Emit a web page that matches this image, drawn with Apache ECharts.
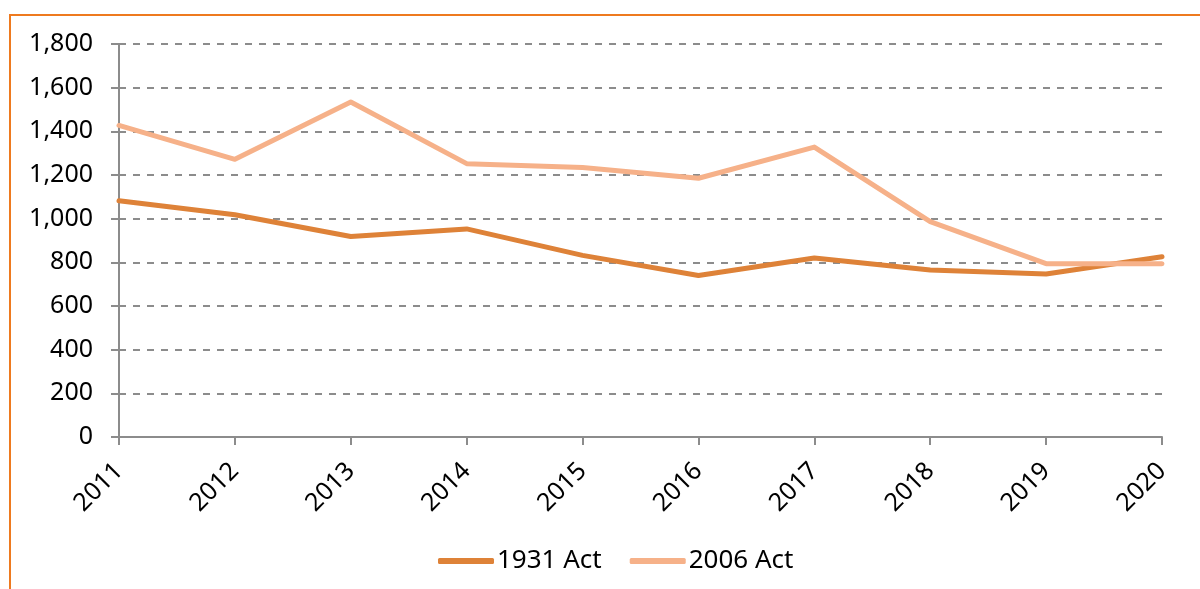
<!DOCTYPE html>
<html>
<head>
<meta charset="utf-8">
<title>1931 Act vs 2006 Act</title>
<script src="https://cdn.jsdelivr.net/npm/echarts@6/dist/echarts.min.js"></script>
<style>
    html, body { margin: 0; padding: 0; overflow: hidden; background: #fff; }
    #frame {
        position: absolute; left: 9px; top: 14px;
        width: 1400px; height: 800px;
        border-top: 2px solid #ee7a1f; border-left: 2px solid #ee7a1f;
    }
    #chart { position: absolute; left: 0; top: 0; width: 1200px; height: 589px; }
</style>
</head>
<body>
<div id="frame"></div>
<div id="chart"></div>
<script>
// years on the x axis
const years = ['2011', '2012', '2013', '2014', '2015', '2016', '2017', '2018', '2019', '2020'];
// values
const act1931 = [1082, 1018, 918, 953, 832, 740, 820, 765, 747, 826];
const act2006 = [1427, 1272, 1534, 1252, 1234, 1185, 1328, 986, 794, 793];
const seriesNames = ['1931 Act', '2006 Act'];
const yTicks = { min: 0, max: 1800, step: 200 };

const darkOrange = '#de8238';
const lightOrange = '#f6b189';
const axisGrey = '#8c8c8c';
const font = 'Noto Sans';

let chart = echarts.init(document.getElementById('chart'));

function lineSeries(name, data, color) {
    return {
        name: name,
        type: 'line',
        data: data,
        symbol: 'none',
        smooth: false,
        lineStyle: { color: color, width: 5, cap: 'round', join: 'round' },
        itemStyle: { color: color },
        animation: false
    };
}

let option = {
    backgroundColor: 'transparent',
    grid: { left: 119, right: 38, top: 44, bottom: 152, containLabel: false },
    legend: {
        show: true,
        bottom: 10,
        left: 433,
        itemWidth: 56,
        itemHeight: 6,
        itemGap: 28,
        icon: 'roundRect',
        data: seriesNames,
        textStyle: { fontFamily: font, fontSize: 26, color: '#000', padding: [0, 0, 0, -2] }
    },
    xAxis: {
        type: 'category',
        boundaryGap: false,
        data: years,
        axisLine: { lineStyle: { color: axisGrey, width: 2 } },
        axisTick: { show: true, alignWithLabel: true, length: 8, lineStyle: { color: axisGrey, width: 2 } },
        axisLabel: {
            rotate: 45,
            margin: 30,
            fontFamily: font,
            fontSize: 25,
            color: '#000'
        }
    },
    yAxis: {
        type: 'value',
        min: yTicks.min,
        max: yTicks.max,
        interval: yTicks.step,
        axisLine: { show: true, lineStyle: { color: axisGrey, width: 2 } },
        axisTick: { show: true, length: 8, lineStyle: { color: axisGrey, width: 2 } },
        axisLabel: {
            margin: 26,
            fontFamily: font,
            fontSize: 25,
            color: '#000',
            formatter: function (v) { return v.toLocaleString('en-US'); }
        },
        splitLine: {
            show: true,
            lineStyle: { color: axisGrey, width: 2, type: [7, 7] }
        }
    },
    series: [
        lineSeries(seriesNames[0], act1931, darkOrange),
        lineSeries(seriesNames[1], act2006, lightOrange)
    ]
};

chart.setOption(option);
window.onresize = function () {
    chart.resize();
};
</script>
</body>
</html>
